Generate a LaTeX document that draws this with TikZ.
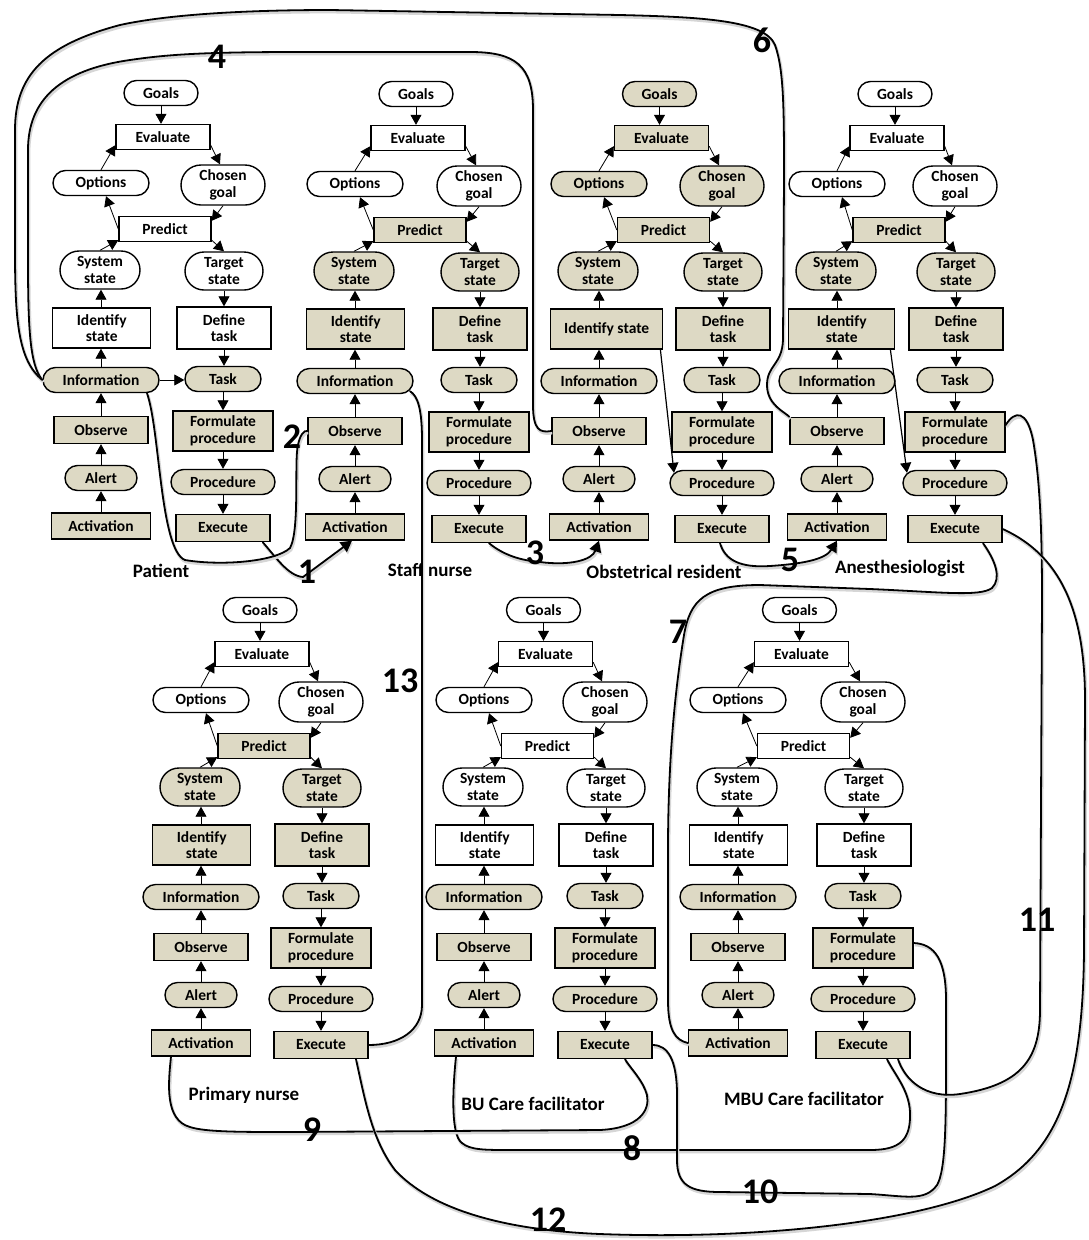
\documentclass[tikz,border=0pt]{standalone}
\usepackage{fontspec}
\setmainfont{Carlito}
\usetikzlibrary{shapes.misc,arrows.meta}
\definecolor{ladtan}{HTML}{DDD9C4}

\tikzset{
  lbl/.style={font=\fontsize{15.5}{16.5}\selectfont\bfseries, align=center,
    draw=black, line width=1.4pt, inner sep=2pt, minimum height=25pt},
  stad/.style={lbl, rounded rectangle},
  box/.style={lbl, rectangle},
  arr/.style={line width=0.8pt, -{Triangle[length=10pt,width=11pt]}},
  link/.style={line width=1.8pt, line cap=round,
    preaction={draw=black!16, line width=2.8pt, transform canvas={shift={(1pt,-2pt)}}}},
  linka/.style={link, -{Triangle[length=11pt,width=12pt]}},
  num/.style={font=\fontsize{36}{36}\selectfont\bfseries, inner sep=0pt},
  role/.style={font=\fontsize{19}{20}\selectfont\bfseries, inner sep=0pt}
}

% One decision ladder.
% #1 prefix, #2 left column x, #3 right column x, #4 top y,
% #5 fill of the upper steps, #6 fill of the middle steps,
% #7 text of the identify step, #8 its width
\newcommand\ladder[8]{%
  \node[stad,fill=#5,minimum width=78pt] (#1go) at ({(#2+#3)/2-1},{#4}) {Goals};
  \node[box,fill=#5,minimum width=94pt] (#1ev) at ({(#2+#3)/2+1},{#4+44}) {Evaluate};
  \node[stad,fill=#5,minimum width=100pt] (#1op) at ({#2},{#4+90}) {Options};
  \node[stad,fill=#5,minimum width=88pt,minimum height=40pt] (#1cg) at ({#3},{#4+92}) {Chosen\\goal};
  \node[box,fill=#6,minimum width=92pt] (#1pr) at ({(#2+#3)/2+3},{#4+136}) {Predict};
  \node[stad,fill=#6,minimum width=84pt,minimum height=38pt] (#1ss) at ({#2-1},{#4+177}) {System\\state};
  \node[stad,fill=#6,minimum width=82pt,minimum height=38pt] (#1ts) at ({#3+1},{#4+178}) {Target\\state};
  \node[box,fill=#6,minimum width=#8,minimum height=40pt,anchor=west] (#1is) at ({#2-49},{#4+235}) {#7};
  \node[box,fill=#6,minimum width=94pt,minimum height=42pt] (#1dt) at ({#3+1},{#4+235}) {Define\\task};
  \node[stad,fill=ladtan,minimum width=120pt] (#1in) at ({#2},{#4+287}) {Information};
  \node[stad,fill=ladtan,minimum width=80pt] (#1ta) at ({#3},{#4+286}) {Task};
  \node[box,fill=ladtan,minimum width=94pt,minimum height=27pt] (#1ob) at ({#2},{#4+337}) {Observe};
  \node[box,fill=ladtan,minimum width=100pt,minimum height=40pt] (#1fp) at ({#3},{#4+338}) {Formulate\\procedure};
  \node[stad,fill=ladtan,minimum width=76pt] (#1al) at ({#2},{#4+385}) {Alert};
  \node[stad,fill=ladtan,minimum width=108pt] (#1pc) at ({#3},{#4+389}) {Procedure};
  \node[box,fill=ladtan,minimum width=99pt,minimum height=26pt] (#1ac) at ({#2},{#4+433}) {Activation};
  \node[box,fill=ladtan,minimum width=94pt,minimum height=27pt] (#1ex) at ({#3},{#4+435}) {Execute};
  % top of the ladder
  \draw[arr] (#1go.south) -- (#1go.south |- #1ev.north);
  \draw[arr] (#1op.north) -- ([yshift=5pt]#1ev.south west);
  \draw[arr] ([yshift=5pt]#1ev.south east) -- ([xshift=-3pt]#1cg.north);
  \draw[arr] (#1cg.south) -- ([yshift=-5pt]#1pr.north east);
  \draw[arr] (#1pr.west) -- ([xshift=5pt]#1op.south);
  \draw[arr] (#1ss.north) -- ([yshift=2pt]#1pr.south west);
  \draw[arr] ([yshift=2pt]#1pr.south east) -- (#1ts.north);
  % left leg, upwards
  \draw[arr] (#1ac.north) -- (#1ac.north |- #1al.south);
  \draw[arr] (#1al.north) -- (#1al.north |- #1ob.south);
  \draw[arr] (#1ob.north) -- (#1ob.north |- #1in.south);
  \draw[arr] (#1in.north) -- (#1in.north |- #1is.south);
  \draw[arr] (#1in.north |- #1is.north) -- (#1in.north |- #1ss.south);
  % right leg, downwards
  \draw[arr] (#1ts.south) -- (#1ts.south |- #1dt.north);
  \draw[arr] (#1dt.south) -- (#1dt.south |- #1ta.north);
  \draw[arr] (#1ta.south) -- (#1ta.south |- #1fp.north);
  \draw[arr] (#1fp.south) -- (#1fp.south |- #1pc.north);
  \draw[arr] (#1pc.south) -- (#1pc.south |- #1ex.north);
}

\begin{document}
\begin{tikzpicture}[x=1pt,y=-1pt]
\useasboundingbox[fill=white] (0,0) rectangle (1088,1240);

% the seven ladders
\ladder{u1}{101}{223}{93}{white}{white}{Identify\\state}{98pt}
\ladder{u2}{355}{479}{94}{white}{ladtan}{Identify\\state}{98pt}
\ladder{u3}{599}{722}{94}{ladtan}{ladtan}{Identify state}{112pt}
\ladder{u4}{837}{955}{94}{white}{ladtan}{Identify\\state}{106pt}
\ladder{u5}{201}{321}{610}{white}{ladtan}{Identify\\state}{98pt}
\ladder{u6}{484}{605}{610}{white}{white}{Identify\\state}{98pt}
\ladder{u7}{738}{863}{610}{white}{white}{Identify\\state}{98pt}

% shortcuts inside single ladders
\draw[arr] (u1in.east) -- (u1in.east -| u1ta.west);
\draw[arr,line width=1.2pt] ([xshift=-3pt]u3is.south east) -- ([xshift=-48pt,yshift=-3pt]u3pc.north);
\draw[arr,line width=1.2pt] ([xshift=-5pt]u4is.south east) -- ([xshift=-48pt,yshift=-3pt]u4pc.north);

% roles
\node[role] (rpat) at (161,571) {Patient};
\node[role] (rsn) at (430,570) {Staff nurse};
\node[role] (rob) at (664,572) {Obstetrical resident};
\node[role] (ran) at (900,568) {Anesthesiologist};
\node[role] (rpn) at (244,1095) {Primary nurse};
\node[role] (rbu) at (533,1104) {BU Care facilitator};
\node[role] (rmbu) at (804,1099) {MBU Care facilitator};

% links between the ladders
\draw[linka] ([xshift=-8pt]u1ex.south east) .. controls (275,556) and (288,576) .. (303,577) -- ([xshift=-3pt]u2ac.south);
\draw[link] ([xshift=46pt]u1in.south) .. controls (160,430) and (160,550) .. (185,560)
  .. controls (220,566) and (275,562) .. (290,548) .. controls (300,530) and (294,460) .. (298,445)
  .. controls (300,435) and (304,430) .. (u2ob.west);
\draw[linka] ([xshift=10pt]u2ex.south) .. controls (500,552) and (515,560) .. (540,562)
  .. controls (570,566) and (592,560) .. (u3ac.south);
\draw[linka] ([xshift=-2pt]u3ex.south) .. controls (725,560) and (740,568) .. (770,566)
  .. controls (800,564) and (825,560) .. (u4ac.south);
\draw[link] (u1in.west) .. controls (30,365) and (28,330) .. (28,260) -- (28,150)
  .. controls (28,100) and (60,70) .. (130,60) .. controls (170,54) and (210,52) .. (300,52) -- (470,52)
  .. controls (515,52) and (533,65) .. (533,110) -- (533,405) .. controls (533,430) and (540,433) .. (u3ob.west);
\draw[link] (u1in.west) .. controls (18,360) and (15,320) .. (15,250) -- (15,130)
  .. controls (15,75) and (45,45) .. (120,25) .. controls (170,14) and (250,10) .. (330,10) -- (620,15)
  .. controls (700,17) and (765,20) .. (775,45) .. controls (784,70) and (784,110) .. (784,180) -- (783,340)
  .. controls (782,365) and (767,365) .. (767,385) .. controls (767,405) and (785,412) .. (u4ob.north west);
\draw[link] ([xshift=28pt]u4ex.south) .. controls (995,560) and (1002,578) .. (992,588)
  .. controls (980,597) and (940,592) .. (870,589) -- (760,585)
  .. controls (705,585) and (690,600) .. (684,635) .. controls (675,690) and (668,760) .. (668,850) -- (668,1000)
  .. controls (668,1030) and (675,1040) .. (u7ac.west);
\draw[link] ([xshift=-28pt]u6ac.south) .. controls (453,1085) and (450,1135) .. (462,1143)
  .. controls (470,1150) and (485,1150) .. (510,1150) -- (870,1150)
  .. controls (900,1150) and (911,1140) .. (910,1112) .. controls (909,1090) and (895,1075) .. ([xshift=24pt]u7ex.south);
\draw[link] ([xshift=-30pt]u5ac.south) .. controls (168,1085) and (165,1120) .. (190,1127)
  .. controls (205,1132) and (240,1132) .. (290,1132) -- (600,1130)
  .. controls (640,1128) and (650,1110) .. (647,1095) .. controls (643,1080) and (630,1068) .. ([xshift=20pt]u6ex.south);
\draw[link] (u6ex.east) .. controls (668,1045) and (677,1060) .. (677,1095) -- (677,1160)
  .. controls (677,1185) and (690,1192) .. (720,1192) -- (870,1194)
  .. controls (905,1196) and (925,1202) .. (937,1185) .. controls (946,1170) and (946,1120) .. (946,1050) -- (946,1000)
  .. controls (946,960) and (935,944) .. ([yshift=5pt]u7fp.east);
\draw[link] ([yshift=7pt]u4fp.east) .. controls (1015,410) and (1027,410) .. (1033,440)
  .. controls (1040,480) and (1042,530) .. (1042,600) -- (1040,1010)
  .. controls (1040,1060) and (1020,1085) .. (960,1094) .. controls (925,1099) and (905,1080) .. ([xshift=35pt]u7ex.south);
\draw[link] ([xshift=35pt]u5ex.south) .. controls (365,1100) and (372,1140) .. (395,1170)
  .. controls (430,1208) and (500,1230) .. (600,1234) .. controls (760,1240) and (920,1222) .. (995,1186)
  .. controls (1060,1150) and (1083,1080) .. (1084,950) -- (1085,700)
  .. controls (1085,610) and (1060,555) .. (u4ex.east);
\draw[link] ([xshift=55pt,yshift=3pt]u2in.south) .. controls (418,396) and (422,410) .. (422,440) -- (422,1005)
  .. controls (422,1030) and (400,1045) .. (u5ex.east);

% link numbers
\node[num] (n1) at (307,572) {1};
\node[num] (n2) at (292,437) {2};
\node[num] (n3) at (535,553) {3};
\node[num] (n4) at (217,57) {4};
\node[num] (n5) at (790,560) {5};
\node[num] (n6) at (762,40) {6};
\node[num] (n7) at (678,632) {7};
\node[num] (n8) at (632,1148) {8};
\node[num] (n9) at (312,1130) {9};
\node[num] (n10) at (760,1192) {10};
\node[num] (n11) at (1037,920) {11};
\node[num] (n12) at (548,1220) {12};
\node[num] (n13) at (400,681) {13};
\end{tikzpicture}
\end{document}
